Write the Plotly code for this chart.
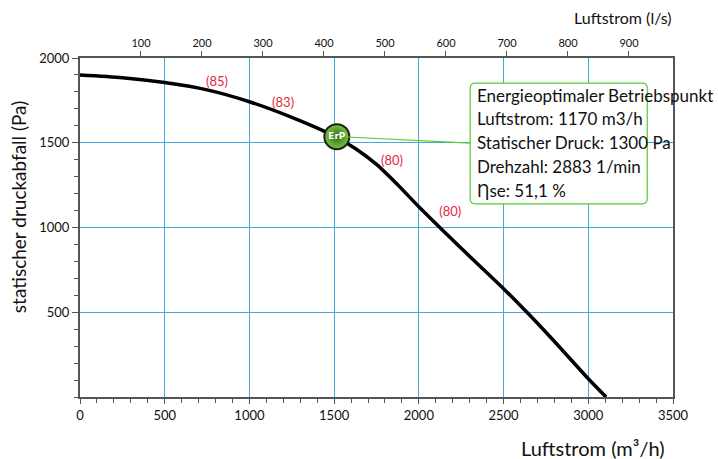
import plotly.graph_objects as go

# Fan curve (m3/h vs Pa)
flow_m3h = [0, 250, 500, 750, 1000, 1250, 1500, 1625, 1750, 1875, 2000, 2250, 2500, 2750, 3000, 3105]
pressure_pa = [1900, 1884, 1855, 1812, 1742, 1650, 1540, 1466, 1372, 1252, 1122, 877, 639, 382, 108, 0]

# Efficiency labels along the curve
label_x = [809, 1199, 1842, 2185]
label_y = [1852, 1729, 1386, 1085]
label_text = ["(85)", "(83)", "(80)", "(80)"]

# Energy-optimal operating point marker (as drawn)
erp_x = [1516]
erp_y = [1536]

info_lines = [
    "Energieoptimaler Betriebspunkt",
    "Luftstrom: 1170 m3/h",
    "Statischer Druck: 1300 Pa",
    "Drehzahl: 2883 1/min",
    "Ƞse: 51,1 %",
]

top_ticks = [100, 200, 300, 400, 500, 600, 700, 800, 900]
x_ticks = [0, 500, 1000, 1500, 2000, 2500, 3000, 3500]
y_ticks = [500, 1000, 1500, 2000]

FONT = "Lato"
GRID = "#45a8e0"
AXIS = "#555555"

fig = go.Figure()

fig.add_trace(go.Scatter(
    x=flow_m3h, y=pressure_pa, mode="lines",
    line=dict(color="black", width=3.5, shape="spline", smoothing=0.7),
    hoverinfo="skip", showlegend=False,
))

fig.add_trace(go.Scatter(
    x=label_x, y=label_y, mode="text", text=label_text,
    textfont=dict(color="#e8283a", size=13, family=FONT),
    hoverinfo="skip", showlegend=False,
))

# connector line from marker to info box
fig.add_shape(type="line", x0=erp_x[0] + 60, y0=erp_y[0] - 2, x1=2303, y1=1498,
              line=dict(color="#55cc33", width=1.2), layer="above")

fig.add_trace(go.Scatter(
    x=erp_x, y=erp_y, mode="markers+text", text=["<b>ErP</b>"],
    textposition="middle center",
    textfont=dict(color="white", size=9, family="DejaVu Sans"),
    marker=dict(size=25, color="#7cc444",
                gradient=dict(type="radial", color="#2d6e12"),
                line=dict(color="#1a2414", width=2)),
    hoverinfo="skip", showlegend=False,
))

# dummy trace for top axis
fig.add_trace(go.Scatter(x=[0, 972.2], y=[None, None], xaxis="x2", mode="lines",
                         showlegend=False, hoverinfo="skip"))

# info box (rounded rect)
x0, x1, y0, y1 = 2303, 3348, 1139, 1852
rx, ry = 30, 30
path = (f"M {x0+rx},{y1} L {x1-rx},{y1} Q {x1},{y1} {x1},{y1-ry} "
        f"L {x1},{y0+ry} Q {x1},{y0} {x1-rx},{y0} L {x0+rx},{y0} "
        f"Q {x0},{y0} {x0},{y0+ry} L {x0},{y1-ry} Q {x0},{y1} {x0+rx},{y1} Z")
fig.add_shape(type="path", path=path, fillcolor="white",
              line=dict(color="#55cc33", width=1.2), layer="above")

line_py = [95, 118.5, 142.5, 166.5, 190.5]
for txt, py in zip(info_lines, line_py):
    fig.add_annotation(
        x=2333, y=(397 - py) / 0.1695, xref="x", yref="y",
        text=txt, showarrow=False, xanchor="left", yanchor="middle",
        font=dict(size=17, color="#111111", family=FONT),
    )

fig.add_annotation(x=0.915, y=1.12, xref="paper", yref="paper",
                   xanchor="center", yanchor="middle",
                   text="Luftstrom (l/s)", showarrow=False,
                   font=dict(size=16, color="#111111", family=FONT))
fig.add_annotation(x=0.865, y=-0.150, xref="paper", yref="paper",
                   xanchor="center", yanchor="middle",
                   text="Luftstrom (m³/h)", showarrow=False,
                   font=dict(size=20, color="#111111", family=FONT))
fig.add_annotation(x=-0.1046, y=0.56, xref="paper", yref="paper",
                   xanchor="center", yanchor="middle",
                   text="statischer druckabfall (Pa)", showarrow=False,
                   textangle=-90,
                   font=dict(size=19, color="#111111", family=FONT))

fig.update_layout(
    width=718, height=459,
    margin=dict(l=80, r=45, t=58, b=62),
    plot_bgcolor="white", paper_bgcolor="white",
    font=dict(family=FONT, color="#111111"),
    xaxis=dict(
        range=[0, 3500], tickvals=x_ticks, ticktext=[str(v) for v in x_ticks],
        showgrid=True, gridcolor=GRID, gridwidth=1,
        showline=True, linecolor=AXIS, linewidth=2, mirror=True,
        ticks="outside", ticklen=5, tickcolor=AXIS, tickwidth=1,
        minor=dict(dtick=100, ticks="outside", ticklen=4, tickcolor=AXIS, showgrid=False),
        tickfont=dict(size=13, family=FONT), zeroline=False, automargin=False,
    ),
    xaxis2=dict(
        range=[0, 3500 / 3.6], overlaying="x", side="top",
        tickvals=top_ticks, ticktext=[str(v) for v in top_ticks],
        showgrid=False, showline=False, zeroline=False,
        ticks="outside", ticklen=6, tickcolor=AXIS, tickwidth=1,
        tickfont=dict(size=11, family=FONT), automargin=False,
    ),
    yaxis=dict(
        range=[0, 2000], tickvals=y_ticks, ticktext=[str(v) for v in y_ticks],
        showgrid=True, gridcolor=GRID, gridwidth=1,
        showline=True, linecolor=AXIS, linewidth=2, mirror=True,
        ticks="outside", ticklen=6, tickcolor=AXIS, tickwidth=1,
        minor=dict(dtick=100, ticks="outside", ticklen=4, tickcolor=AXIS, showgrid=False),
        tickfont=dict(size=13, family=FONT), zeroline=False, automargin=False,
    ),
)

fig.write_html("out.html", config={"displayModeBar": False},
               post_script="document.body.style.margin='0px';document.body.style.overflow='hidden';")
